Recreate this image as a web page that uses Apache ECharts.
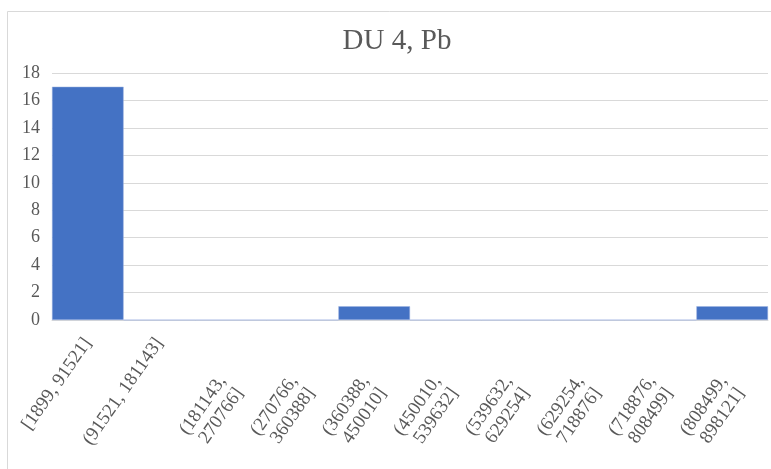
<!DOCTYPE html>
<html>
<head>
<meta charset="utf-8">
<script src="https://cdn.jsdelivr.net/npm/echarts@6/dist/echarts.min.js"></script>
<style>
  html, body { margin: 0; padding: 0; background: #fff; }
  #chart { width: 771px; height: 469px; }
</style>
</head>
<body>
<div id="chart"></div>
<script>
// Histogram bins (Pb concentration ranges) and counts per bin
const binLabels = [
  '[1899, 91521]',
  '(91521, 181143]',
  '(181143,\n270766]',
  '(270766,\n360388]',
  '(360388,\n450010]',
  '(450010,\n539632]',
  '(539632,\n629254]',
  '(629254,\n718876]',
  '(718876,\n808499]',
  '(808499,\n898121]'
];
const counts = [17, 0, 0, 0, 1, 0, 0, 0, 0, 1];
const yTicks = { min: 0, max: 18, interval: 2 };

const textColor = '#595959';
const gridColor = '#d9d9d9';
const font = '"Liberation Serif", "Times New Roman", serif';

const chart = echarts.init(document.getElementById('chart'), null, { renderer: 'canvas' });
chart.setOption({
  animation: false,
  backgroundColor: '#fff',
  title: {
    text: 'DU 4, Pb',
    left: 392,
    top: 22,
    textAlign: 'center',
    textStyle: { fontFamily: font, fontSize: 29, fontWeight: 'normal', color: textColor }
  },
  graphic: [{
    type: 'rect',
    shape: { x: 7.5, y: 11.5, width: 800, height: 500 },
    style: { fill: 'none', stroke: gridColor, lineWidth: 1 },
    silent: true,
    z: -1
  }],
  grid: { left: 52, right: 3, top: 73, bottom: 149, outerBoundsMode: 'none' },
  xAxis: {
    type: 'category',
    data: binLabels,
    axisLine: { show: true, lineStyle: { color: gridColor, width: 1 } },
    axisTick: { show: false },
    axisLabel: {
      interval: 0,
      rotate: 55,
      margin: 20,
      fontFamily: font,
      fontSize: 19,
      lineHeight: 21,
      color: textColor,
      // wrapped labels get a blank spacer line so they sit lower than single-line ones
      formatter: function (v) {
        if (v.indexOf('\n') < 0) return v;
        const lines = v.split('\n');
        return '{s| }\n{t|' + lines[0] + '}\n{t|' + lines[1] + '}';
      },
      rich: {
        s: { fontSize: 4, lineHeight: 50 },
        t: { fontFamily: font, fontSize: 19, lineHeight: 21, color: textColor, padding: [0, 36, 0, 0] }
      }
    }
  },
  yAxis: {
    type: 'value',
    min: yTicks.min,
    max: yTicks.max,
    interval: yTicks.interval,
    axisLine: { show: false },
    axisTick: { show: false },
    axisLabel: { margin: 12, fontFamily: font, fontSize: 18, color: textColor },
    splitLine: { lineStyle: { color: gridColor, width: 1 } }
  },
  series: [{
    type: 'bar',
    data: counts,
    barCategoryGap: '0%',
    itemStyle: { color: '#4472C4', borderColor: '#9db3e0', borderWidth: 0.5 }
  }]
});
</script>
</body>
</html>
